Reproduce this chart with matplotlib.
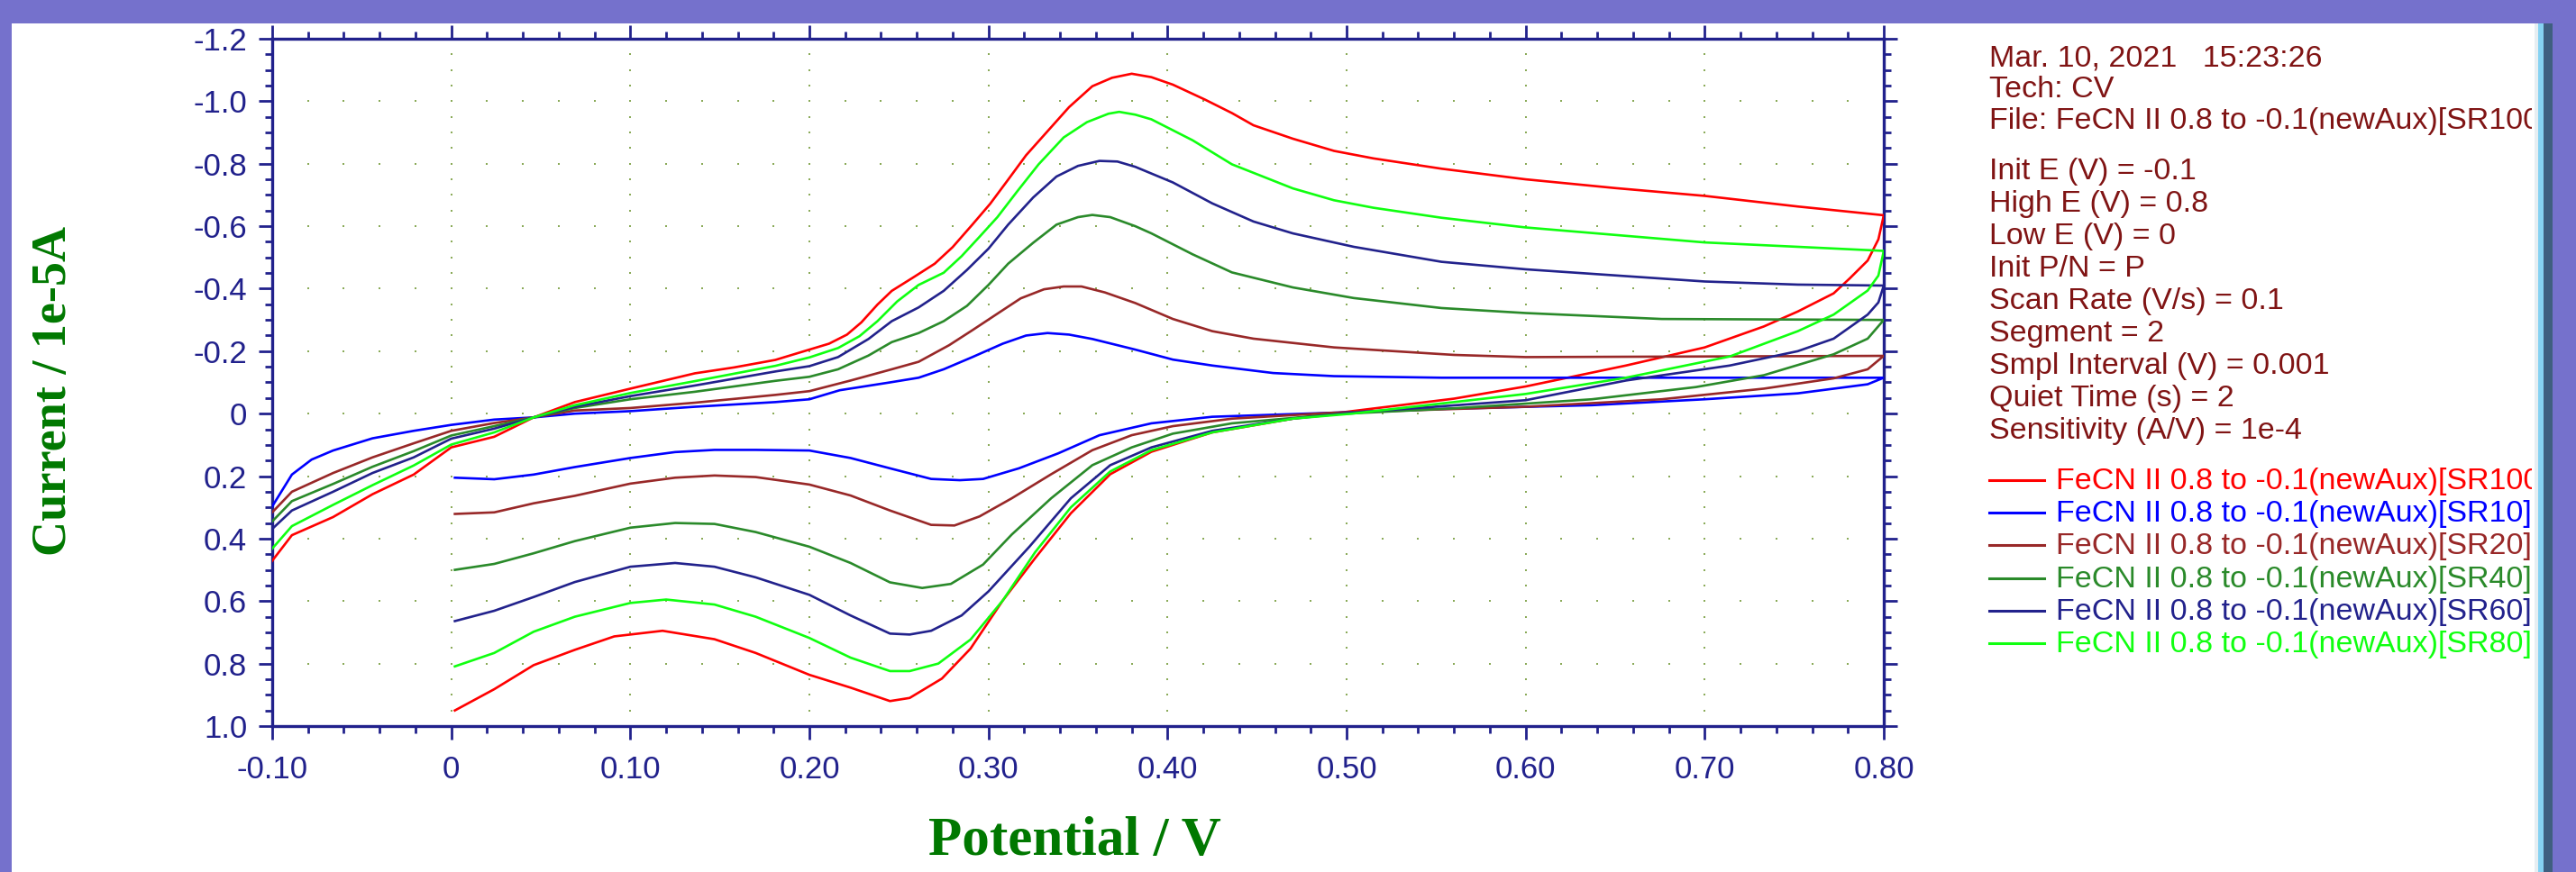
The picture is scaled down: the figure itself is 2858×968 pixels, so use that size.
import numpy as np
import matplotlib
matplotlib.use("Agg")
import matplotlib.pyplot as plt
from matplotlib.patches import Rectangle
from matplotlib.ticker import FixedLocator, FixedFormatter, MultipleLocator

# ---------------- data (Potential / V, Current / 1e-5 A) ----------------
sr100_fwd_E = [-0.100, -0.089, -0.066, -0.044, -0.021, 0.000, 0.024, 0.046, 0.069, 0.100,
               0.136, 0.158, 0.181, 0.200, 0.211, 0.221, 0.229, 0.238, 0.246, 0.258,
               0.270, 0.280, 0.291, 0.301, 0.311, 0.321, 0.333, 0.345, 0.358, 0.369,
               0.380, 0.391, 0.403, 0.421, 0.436, 0.448, 0.470, 0.493, 0.515, 0.553,
               0.600, 0.650, 0.700, 0.752, 0.800]
sr100_fwd_I = [0.471, 0.389, 0.331, 0.258, 0.195, 0.108, 0.074, 0.012, -0.037, -0.080,
               -0.129, -0.148, -0.172, -0.205, -0.224, -0.253, -0.292, -0.349, -0.393, -0.436,
               -0.480, -0.533, -0.605, -0.672, -0.749, -0.827, -0.904, -0.981, -1.048, -1.075,
               -1.088, -1.077, -1.053, -1.005, -0.962, -0.923, -0.880, -0.841, -0.817, -0.784,
               -0.750, -0.722, -0.697, -0.663, -0.635]
sr100_rev_E = [0.797, 0.791, 0.781, 0.772, 0.752, 0.733, 0.700, 0.656, 0.600, 0.560,
               0.503, 0.470, 0.425, 0.391, 0.368, 0.346, 0.326, 0.308, 0.290, 0.274,
               0.256, 0.245, 0.223, 0.200, 0.170, 0.147, 0.118, 0.091, 0.069, 0.046,
               0.024, 0.002]
sr100_rev_I = [-0.558, -0.490, -0.433, -0.385, -0.327, -0.279, -0.212, -0.154, -0.087, -0.048,
               -0.008, 0.016, 0.060, 0.122, 0.194, 0.319, 0.463, 0.598, 0.752, 0.848,
               0.910, 0.920, 0.877, 0.836, 0.766, 0.722, 0.695, 0.713, 0.756, 0.805,
               0.882, 0.950]

sr10_fwd_E = [-0.100, -0.089, -0.078, -0.066, -0.044, -0.021, 0.000, 0.024, 0.046, 0.069,
              0.100, 0.136, 0.181, 0.200, 0.217, 0.245, 0.261, 0.275, 0.291, 0.308,
              0.321, 0.333, 0.345, 0.358, 0.382, 0.403, 0.425, 0.459, 0.493, 0.553,
              0.800]
sr10_fwd_I = [0.297, 0.195, 0.147, 0.118, 0.079, 0.055, 0.036, 0.019, 0.012, 0.000,
              -0.008, -0.022, -0.037, -0.046, -0.075, -0.100, -0.115, -0.142, -0.181, -0.224,
              -0.250, -0.258, -0.253, -0.239, -0.205, -0.173, -0.154, -0.130, -0.120, -0.115,
              -0.115]
sr10_rev_E = [0.791, 0.752, 0.700, 0.637, 0.553, 0.493, 0.425, 0.391, 0.362, 0.339,
              0.317, 0.297, 0.284, 0.268, 0.245, 0.223, 0.200, 0.170, 0.147, 0.125,
              0.100, 0.069, 0.046, 0.024, 0.002]
sr10_rev_I = [-0.094, -0.065, -0.046, -0.027, -0.015, -0.003, 0.010, 0.031, 0.069, 0.127,
              0.175, 0.209, 0.213, 0.209, 0.175, 0.142, 0.118, 0.116, 0.116, 0.123,
              0.142, 0.171, 0.195, 0.210, 0.205]

sr20_fwd_E = [-0.100, -0.089, -0.066, -0.044, -0.021, 0.000, 0.024, 0.046, 0.069, 0.100,
              0.136, 0.181, 0.200, 0.223, 0.246, 0.261, 0.278, 0.291, 0.305, 0.318,
              0.331, 0.342, 0.352, 0.365, 0.382, 0.403, 0.425, 0.448, 0.493, 0.560,
              0.600, 0.800]
sr20_fwd_I = [0.316, 0.250, 0.190, 0.140, 0.095, 0.055, 0.030, 0.012, -0.010, -0.018,
              -0.035, -0.060, -0.072, -0.106, -0.142, -0.166, -0.219, -0.267, -0.320, -0.369,
              -0.398, -0.407, -0.407, -0.388, -0.354, -0.303, -0.264, -0.240, -0.212, -0.188,
              -0.181, -0.185]
sr20_rev_E = [0.791, 0.772, 0.733, 0.676, 0.600, 0.493, 0.436, 0.403, 0.380, 0.358,
              0.335, 0.313, 0.295, 0.281, 0.268, 0.245, 0.223, 0.200, 0.170, 0.147,
              0.125, 0.100, 0.069, 0.046, 0.024, 0.002]
sr20_rev_I = [-0.142, -0.113, -0.080, -0.046, -0.022, -0.003, 0.016, 0.040, 0.069, 0.117,
              0.194, 0.271, 0.329, 0.358, 0.356, 0.310, 0.262, 0.227, 0.203, 0.198,
              0.205, 0.224, 0.263, 0.287, 0.316, 0.321]

sr40_fwd_E = [-0.100, -0.089, -0.066, -0.044, -0.021, 0.000, 0.024, 0.046, 0.069, 0.100,
              0.136, 0.181, 0.200, 0.216, 0.233, 0.246, 0.261, 0.275, 0.288, 0.300,
              0.311, 0.325, 0.338, 0.350, 0.358, 0.368, 0.382, 0.391, 0.414, 0.436,
              0.470, 0.504, 0.553, 0.600, 0.676, 0.800]
sr40_fwd_I = [0.345, 0.280, 0.225, 0.170, 0.120, 0.070, 0.040, 0.012, -0.018, -0.046,
              -0.070, -0.105, -0.118, -0.142, -0.186, -0.229, -0.258, -0.296, -0.345, -0.412,
              -0.480, -0.547, -0.605, -0.629, -0.636, -0.629, -0.600, -0.577, -0.510, -0.452,
              -0.404, -0.370, -0.338, -0.322, -0.303, -0.300]
sr40_rev_E = [0.791, 0.772, 0.733, 0.695, 0.637, 0.560, 0.493, 0.436, 0.403, 0.380,
              0.358, 0.335, 0.313, 0.297, 0.279, 0.263, 0.245, 0.223, 0.200, 0.170,
              0.147, 0.125, 0.100, 0.069, 0.046, 0.024, 0.002]
sr40_rev_I = [-0.240, -0.190, -0.123, -0.085, -0.046, -0.017, 0.002, 0.031, 0.064, 0.108,
              0.165, 0.271, 0.387, 0.483, 0.545, 0.558, 0.540, 0.478, 0.426, 0.379,
              0.353, 0.350, 0.365, 0.408, 0.447, 0.481, 0.500]

sr60_fwd_E = [-0.100, -0.089, -0.066, -0.044, -0.021, 0.000, 0.024, 0.046, 0.069, 0.100,
              0.136, 0.181, 0.200, 0.216, 0.233, 0.246, 0.261, 0.275, 0.288, 0.300,
              0.311, 0.325, 0.338, 0.350, 0.362, 0.372, 0.382, 0.403, 0.425, 0.448,
              0.470, 0.504, 0.553, 0.600, 0.700, 0.752, 0.800]
sr60_fwd_I = [0.369, 0.310, 0.250, 0.190, 0.140, 0.080, 0.048, 0.012, -0.022, -0.056,
              -0.090, -0.135, -0.152, -0.181, -0.239, -0.296, -0.340, -0.393, -0.460, -0.528,
              -0.605, -0.692, -0.759, -0.793, -0.809, -0.807, -0.790, -0.740, -0.673, -0.615,
              -0.577, -0.534, -0.486, -0.462, -0.423, -0.413, -0.410]
sr60_rev_E = [0.797, 0.791, 0.772, 0.752, 0.714, 0.656, 0.600, 0.503, 0.470, 0.425,
              0.391, 0.368, 0.346, 0.323, 0.300, 0.285, 0.268, 0.256, 0.245, 0.223,
              0.200, 0.170, 0.147, 0.125, 0.100, 0.069, 0.046, 0.024, 0.002]
sr60_rev_I = [-0.356, -0.317, -0.240, -0.200, -0.154, -0.106, -0.043, -0.003, 0.016, 0.055,
              0.108, 0.165, 0.271, 0.425, 0.569, 0.646, 0.695, 0.707, 0.704, 0.646,
              0.580, 0.524, 0.490, 0.478, 0.490, 0.539, 0.587, 0.631, 0.664]

sr80_fwd_E = [-0.100, -0.089, -0.066, -0.044, -0.021, 0.000, 0.024, 0.046, 0.069, 0.100,
              0.136, 0.181, 0.200, 0.216, 0.228, 0.238, 0.249, 0.261, 0.275, 0.285,
              0.295, 0.305, 0.316, 0.328, 0.342, 0.355, 0.367, 0.373, 0.382, 0.391,
              0.414, 0.436, 0.470, 0.493, 0.515, 0.553, 0.600, 0.700, 0.752, 0.800]
sr80_fwd_I = [0.432, 0.360, 0.292, 0.229, 0.166, 0.099, 0.060, 0.012, -0.027, -0.066,
              -0.104, -0.153, -0.180, -0.210, -0.248, -0.296, -0.359, -0.412, -0.451, -0.504,
              -0.566, -0.629, -0.711, -0.798, -0.884, -0.933, -0.960, -0.966, -0.957, -0.942,
              -0.875, -0.798, -0.721, -0.683, -0.659, -0.627, -0.596, -0.548, -0.534, -0.521]
sr80_rev_E = [0.797, 0.791, 0.772, 0.752, 0.714, 0.656, 0.600, 0.503, 0.470, 0.425,
              0.391, 0.368, 0.346, 0.326, 0.308, 0.290, 0.272, 0.256, 0.245, 0.223,
              0.200, 0.170, 0.147, 0.120, 0.100, 0.069, 0.046, 0.024, 0.002]
sr80_rev_I = [-0.442, -0.394, -0.317, -0.264, -0.183, -0.115, -0.063, 0.000, 0.016, 0.060,
              0.117, 0.185, 0.300, 0.444, 0.598, 0.723, 0.800, 0.824, 0.824, 0.781,
              0.718, 0.650, 0.611, 0.595, 0.606, 0.650, 0.698, 0.766, 0.809]

series_labels = ["FeCN II 0.8 to -0.1(newAux)[SR100]",
                 "FeCN II 0.8 to -0.1(newAux)[SR10]",
                 "FeCN II 0.8 to -0.1(newAux)[SR20]",
                 "FeCN II 0.8 to -0.1(newAux)[SR40]",
                 "FeCN II 0.8 to -0.1(newAux)[SR60]",
                 "FeCN II 0.8 to -0.1(newAux)[SR80]"]

x_ticks = [-0.1, 0.0, 0.1, 0.2, 0.3, 0.4, 0.5, 0.6, 0.7, 0.8]
x_tick_labels = ["-0.10", "0", "0.10", "0.20", "0.30", "0.40", "0.50", "0.60", "0.70", "0.80"]
y_ticks = [-1.2, -1.0, -0.8, -0.6, -0.4, -0.2, 0.0, 0.2, 0.4, 0.6, 0.8, 1.0]
y_tick_labels = ["-1.2", "-1.0", "-0.8", "-0.6", "-0.4", "-0.2", "0",
                 "0.2", "0.4", "0.6", "0.8", "1.0"]

info_lines = ["Mar. 10, 2021   15:23:26", "Tech: CV",
              "File: FeCN II 0.8 to -0.1(newAux)[SR100]"]
param_lines = ["Init E (V) = -0.1", "High E (V) = 0.8", "Low E (V) = 0",
               "Init P/N = P", "Scan Rate (V/s) = 0.1", "Segment = 2",
               "Smpl Interval (V) = 0.001", "Quiet Time (s) = 2",
               "Sensitivity (A/V) = 1e-4"]

# ---------------- styling ----------------
W, H = 2858, 968
colors = ["#ff0000", "#0000ff", "#982828", "#2a8a2a", "#22228c", "#10ff10"]
NAVY = "#21218c"
DOT = "#8aaa58"
INFO = "#801414"
LABEL_GREEN = "#007800"
SANS = ["Liberation Sans", "DejaVu Sans"]
SERIF = ["Liberation Serif", "DejaVu Serif"]

fig = plt.figure(figsize=(W / 100, H / 100), dpi=100)
fig.patch.set_facecolor("#7571cc")

# window panel + scroll strip
fig.add_artist(Rectangle((13 / W, 0), (2812 - 13) / W, (H - 26) / H,
                         transform=fig.transFigure, facecolor="white", edgecolor="none", zorder=0))
fig.add_artist(Rectangle((2812 / W, 0), 4 / W, (H - 26) / H,
                         transform=fig.transFigure, facecolor="#e6eef2", edgecolor="none", zorder=0))
fig.add_artist(Rectangle((2816 / W, 0), 6 / W, (H - 26) / H,
                         transform=fig.transFigure, facecolor="#86d2f2", edgecolor="none", zorder=0))
fig.add_artist(Rectangle((2822 / W, 0), 10 / W, (H - 26) / H,
                         transform=fig.transFigure, facecolor="#3f5f80", edgecolor="none", zorder=0))

# main axes
ax_l, ax_r, ax_t, ax_b = 302, 2090, 43, 806
ax = fig.add_axes([ax_l / W, 1 - ax_b / H, (ax_r - ax_l) / W, (ax_b - ax_t) / H])
ax.set_facecolor("white")
ax.set_xlim(-0.1, 0.8)
ax.set_ylim(1.0, -1.2)

all_E = [sr100_fwd_E + sr100_rev_E, sr10_fwd_E + sr10_rev_E, sr20_fwd_E + sr20_rev_E,
         sr40_fwd_E + sr40_rev_E, sr60_fwd_E + sr60_rev_E, sr80_fwd_E + sr80_rev_E]
all_I = [sr100_fwd_I + sr100_rev_I, sr10_fwd_I + sr10_rev_I, sr20_fwd_I + sr20_rev_I,
         sr40_fwd_I + sr40_rev_I, sr60_fwd_I + sr60_rev_I, sr80_fwd_I + sr80_rev_I]
for E, I, c in zip(all_E, all_I, colors):
    ax.plot(E, I, color=c, lw=1.9, zorder=3, solid_joinstyle="round")

# dotted grid (dots at minor-tick spacing along major grid lines)
x_minor = np.round(np.arange(-0.1, 0.8 + 1e-9, 0.02), 4)
y_minor = np.round(np.arange(-1.2, 1.0 + 1e-9, 0.05), 4)
xi = x_minor[1:-1]
yi = y_minor[1:-1]
for yv in y_ticks[1:-1]:
    ax.plot(xi, np.full_like(xi, yv), ls="none", marker="s", ms=2.0, mew=0, color=DOT, zorder=1)
for xv in x_ticks[1:-1]:
    ax.plot(np.full_like(yi, xv), yi, ls="none", marker="s", ms=2.0, mew=0, color=DOT, zorder=1)

# ticks
ax.xaxis.set_major_locator(FixedLocator(x_ticks))
ax.xaxis.set_major_formatter(FixedFormatter(x_tick_labels))
ax.xaxis.set_minor_locator(MultipleLocator(0.02))
ax.yaxis.set_major_locator(FixedLocator(y_ticks))
ax.yaxis.set_major_formatter(FixedFormatter(y_tick_labels))
ax.yaxis.set_minor_locator(MultipleLocator(0.05))
ax.tick_params(which="both", direction="out", top=True, right=True, color=NAVY, width=2.0)
ax.tick_params(which="major", length=11)
ax.tick_params(which="minor", length=6)
ax.tick_params(axis="x", which="major", pad=12, labelsize=25, labelcolor=NAVY)
ax.tick_params(axis="y", which="major", pad=9, labelsize=25, labelcolor=NAVY)
for lab in ax.get_xticklabels() + ax.get_yticklabels():
    lab.set_family(SANS)
for sp in ax.spines.values():
    sp.set_color(NAVY)
    sp.set_linewidth(2.4)

# axis titles
fig.text(1192 / W, 1 - 934 / H, "Potential / V", ha="center", va="center",
         fontsize=44, fontweight="bold", color=LABEL_GREEN, family=SERIF)
fig.text(60 / W, 1 - 434 / H, "Current / 1e-5A", ha="center", va="center", rotation=90,
         fontsize=39, fontweight="bold", color=LABEL_GREEN, family=SERIF)

# info panel (clipped like the window)
px0, px1 = 2195, 2809
axi = fig.add_axes([px0 / W, 0, (px1 - px0) / W, 1])
axi.set_xlim(px0, px1)
axi.set_ylim(H, 0)
axi.axis("off")
tx = 2207
FS = 24.5
info_base = [73, 108, 143]
for s, yb in zip(info_lines, info_base):
    axi.text(tx, yb, s, ha="left", va="baseline", fontsize=FS, color=INFO,
             family=SANS, clip_on=True)
for i, s in enumerate(param_lines):
    axi.text(tx, 199 + 36 * i, s, ha="left", va="baseline", fontsize=FS, color=INFO,
             family=SANS, clip_on=True)
for i, (s, c) in enumerate(zip(series_labels, colors)):
    yb = 543 + 36.2 * i
    axi.plot([2207, 2268], [yb - 10, yb - 10], color=c, lw=2.2, clip_on=True)
    axi.text(2281, yb, s, ha="left", va="baseline", fontsize=FS, color=c,
             family=SANS, clip_on=True)

fig.savefig("out.png", dpi=100, facecolor=fig.get_facecolor())
